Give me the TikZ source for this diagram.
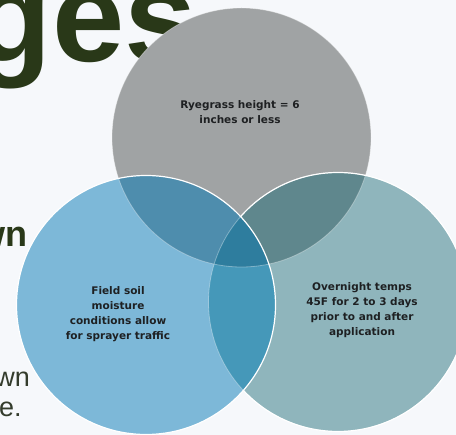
\documentclass[tikz,border=0pt]{standalone}
\usepackage{fontspec}
\newfontfamily\bubblefont{DejaVu Sans}
\newfontfamily\slidefont{Liberation Sans}

\begin{document}
\begin{tikzpicture}[x=1pt,y=-1pt]
        %%init
        %circle radius
        \newcommand{\circr}{129.5}
        %circle centres
        \coordinate (G) at (241.5,137.5); %ryegrass
        \coordinate (L) at (146,305);     %soil
        \coordinate (R) at (338,302);     %temps

        %%colors and styles
        \definecolor{bg_color}{RGB}{246,248,251}
        \definecolor{head_color}{RGB}{41,56,24}
        \definecolor{body_color}{RGB}{52,60,44}
        \definecolor{label_color}{RGB}{30,32,34}
        \definecolor{rye_color}{RGB}{160,163,164}
        \definecolor{soil_color}{RGB}{125,184,216}
        \definecolor{temp_color}{RGB}{143,181,188}
        \definecolor{rye_soil_color}{RGB}{78,141,173}
        \definecolor{rye_temp_color}{RGB}{95,135,141}
        \definecolor{soil_temp_color}{RGB}{69,152,185}
        \definecolor{all_color}{RGB}{46,125,158}
        \tikzset{rim/.style = {draw=white, line width=1.2pt}}
        \tikzset{faint/.style = {draw=white, draw opacity=.35, line width=.8pt}}
        \tikzset{bubbletext/.style = {align=center, text=label_color, inner sep=0,
                font=\bubblefont\bfseries\fontsize{10.5}{15}\selectfont}}

        %%frame
        \useasboundingbox (0,0) rectangle (456,435);
        \clip (0,0) rectangle (456,435);
        \fill[bg_color] (0,0) rectangle (456,435);

        %%slide text behind the circles
        \node[anchor=base east, inner sep=0, text=head_color,
              font=\slidefont\bfseries\fontsize{130}{138}\selectfont] (title) at (197,62) {ges};
        \node[anchor=base east, inner sep=0, text=head_color,
              font=\slidefont\bfseries\fontsize{36}{40}\selectfont] (sub) at (28,247) {wn};
        \node[anchor=base east, inner sep=0, text=body_color,
              font=\slidefont\fontsize{27}{30}\selectfont] (line1) at (30,387) {wn};
        \node[anchor=base west, inner sep=0, text=body_color,
              font=\slidefont\fontsize{27}{30}\selectfont] (line2) at (-1,417) {e.};

        %%circles
        \fill[rye_color] (G) circle[radius=\circr];
        \fill[temp_color] (R) circle[radius=\circr];
        \fill[soil_color] (L) circle[radius=\circr];
        %overlaps
        \begin{scope}
            \clip (G) circle[radius=\circr];
            \fill[rye_temp_color] (R) circle[radius=\circr];
            \fill[rye_soil_color] (L) circle[radius=\circr];
        \end{scope}
        \begin{scope}
            \clip (R) circle[radius=\circr];
            \fill[soil_temp_color] (L) circle[radius=\circr];
            \clip (G) circle[radius=\circr];
            \fill[all_color] (L) circle[radius=\circr];
        \end{scope}

        %%outlines
        \draw[faint] (G) circle[radius=\circr];
        \draw[faint] (R) circle[radius=\circr];
        \begin{scope}[even odd rule]
            \clip (0,0) rectangle (456,435) (L) circle[radius=\circr];
            \draw[rim] (R) circle[radius=\circr];
        \end{scope}
        \draw[rim] (L) circle[radius=\circr];

        %%labels
        \node[bubbletext] (rye) at (240,112) {Ryegrass height = 6\\inches or less};
        \node[bubbletext] (soil) at (118,314.5) {Field soil\\moisture\\conditions allow\\for sprayer traffic};
        \node[bubbletext] (temps) at (362,310.5) {Overnight temps\\45F for 2 to 3 days\\prior to and after\\application};
\end{tikzpicture}
\end{document}
